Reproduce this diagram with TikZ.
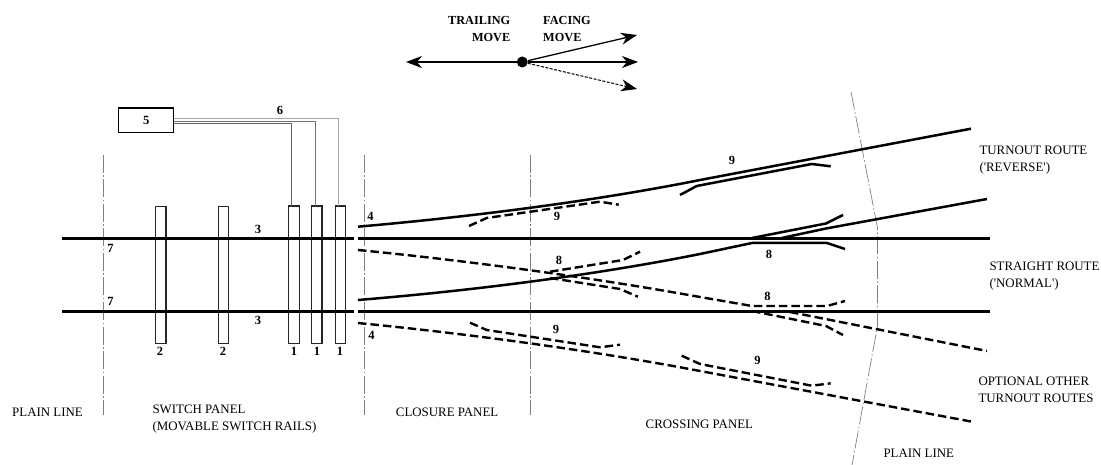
\documentclass[tikz,border=0pt]{standalone}
\usepackage{fontspec}
\setmainfont{Liberation Serif}
\usetikzlibrary{arrows.meta}
\tikzset{
  rail/.style={line width=2.8pt,black},
  route/.style={line width=2.5pt,black,line join=round},
  droute/.style={line width=2.4pt,black,dash pattern=on 8.5pt off 4pt,line join=round},
  panelline/.style={line width=0.7pt,gray,dash pattern=on 18pt off 2.5pt on 1.5pt off 2.5pt},
  sleeper/.style={draw=black!85,line width=1.2pt,fill=none,inner sep=0pt,minimum height=137pt},
  wire/.style={line width=0.9pt},
  num/.style={font=\fontsize{12.5}{12.5}\selectfont\bfseries,inner sep=0pt},
  labr/.style={font=\fontsize{12.9}{16.7}\selectfont,inner sep=0pt,align=left,anchor=west},
  movelab/.style={font=\fontsize{12.3}{16.5}\selectfont\bfseries,inner sep=0pt},
  arw/.style={-{Stealth[length=16pt,width=12pt,inset=5pt]}},
}
\begin{document}
\begin{tikzpicture}[x=1pt,y=-1pt]
\useasboundingbox (0,0) rectangle (1101,465);
% panel lines
\coordinate (pa1) at (103,155); \coordinate (pa2) at (103,415);
\coordinate (pb1) at (364,155); \coordinate (pb2) at (364,415);
\coordinate (pc1) at (530,155); \coordinate (pc2) at (530,415);
\coordinate (pd1) at (851,92); \coordinate (pd2) at (877.5,228); \coordinate (pd3) at (877.5,326); \coordinate (pd4) at (852,465);
\draw[panelline] (pa1) -- (pa2);
\draw[panelline] (pb1) -- (pb2);
\draw[panelline] (pc1) -- (pc2);
\draw[panelline] (pd1) -- (pd2) -- (pd3) -- (pd4);
% sleepers
\node[sleeper,minimum width=10.5pt] (s1) at (160.8,275.2) {};
\node[sleeper,minimum width=10.5pt] (s2) at (223.4,275.2) {};
\node[sleeper,minimum width=10.5pt] (s3) at (294,274.6) {};
\node[sleeper,minimum width=10.5pt] (s4) at (316.8,274.6) {};
\node[sleeper,minimum width=10.5pt] (s5) at (340.6,274.6) {};
% machine
\node[draw=black,line width=1.2pt,minimum width=55pt,minimum height=24.5pt,inner sep=0pt,font=\fontsize{12.5}{12.5}\selectfont\bfseries] (m) at (146.2,120.3) {5};
\coordinate (w1a) at (173.7,118.2); \coordinate (w1b) at (338,118.2); \coordinate (w1c) at (338,206);
\coordinate (w2a) at (173.7,121); \coordinate (w2b) at (315.3,121); \coordinate (w2c) at (315.3,206);
\coordinate (w3a) at (173.7,123.3); \coordinate (w3b) at (291,123.3); \coordinate (w3c) at (291,206);
\draw[wire,black!35] (w1a) -- (w1b) -- (w1c);
\draw[wire,black!55] (w2a) -- (w2b) -- (w2c);
\draw[wire,black!60] (w3a) -- (w3b) -- (w3c);
% straight rails
\coordinate (r1a) at (62,238.3); \coordinate (r1b) at (354,238.3); \coordinate (r1c) at (358,238.3); \coordinate (r1d) at (990,238.3);
\coordinate (r2a) at (62,311.3); \coordinate (r2b) at (354,311.3); \coordinate (r2c) at (358,311.3); \coordinate (r2d) at (990,311.3);
\draw[rail] (r1a) -- (r1b); \draw[rail] (r1c) -- (r1d);
\draw[rail] (r2a) -- (r2b); \draw[rail] (r2c) -- (r2d);
% solid turnout
\draw[route] (358,226.7) .. controls (480,216) and (600,200) .. (700,180) -- (971,128.7);
\draw[route] (680,195) -- (696.7,186) -- (811.7,164) -- (830.7,166.3);
% solid straight-crossing route
\draw[route] (358,300) .. controls (480,290) and (600,274) .. (700,254) -- (752,243) -- (827,243) -- (845,249);
\draw[route] (752,238) -- (826,223.5) -- (843,215);
\draw[route] (781.7,238) -- (826,228.5) -- (987,199);
% dashed other routes
\draw[droute] (358,250) .. controls (480,262) and (600,279) .. (700,297) -- (752,306) -- (827,306) -- (845,301);
\draw[droute] (752,311) -- (826,326) -- (843,335);
\draw[droute] (790,312) -- (987,351);
\draw[droute] (358,323) .. controls (480,335) and (600,352) .. (700,371) -- (972,421.7);
% check rails, dashed
\draw[droute] (469,226) -- (486.7,218) -- (600,201.7) -- (618.7,204.7);
\draw[droute] (470,322.7) -- (486.7,330) -- (600,347.3) -- (620,344.7);
\draw[droute] (681.7,355.7) -- (700,364) -- (811.7,385.7) -- (830.7,383.3);
\draw[droute] (550,271.7) -- (623,260) -- (640,251.7);
\draw[droute] (550,278) -- (620,289) -- (638,296.7);
% numbers
\node[num] (n6) at (280,110) {6};
\node[num] (n3a) at (258,229) {3};
\node[num] (n3b) at (258,320.5) {3};
\node[num] (n7a) at (110.5,248.5) {7};
\node[num] (n7b) at (110.5,301.5) {7};
\node[num] (n2a) at (160,351.5) {2};
\node[num] (n2b) at (223,351.5) {2};
\node[num] (n1a) at (294,351.5) {1};
\node[num] (n1b) at (317,351.5) {1};
\node[num] (n1c) at (340,351.5) {1};
\node[num] (n4a) at (370.5,216.5) {4};
\node[num] (n4b) at (371.5,335) {4};
\node[num] (n9a) at (557,216.5) {9};
\node[num] (n9b) at (556,329.5) {9};
\node[num] (n9c) at (732,160.5) {9};
\node[num] (n9d) at (757.5,360.5) {9};
\node[num] (n8a) at (559,260.5) {8};
\node[num] (n8b) at (769,254) {8};
\node[num] (n8c) at (767.5,296.5) {8};
% labels
\node[labr] (l1) at (979.3,160) {TURNOUT ROUTE\\(\textquotesingle REVERSE\textquotesingle)};
\node[labr] (l2) at (989.3,276.3) {STRAIGHT ROUTE\\(\textquotesingle NORMAL\textquotesingle)};
\node[labr] (l3) at (978.3,389.7) {OPTIONAL OTHER\\TURNOUT ROUTES};
\node[labr] (l4) at (12,412.7) {PLAIN LINE};
\node[labr] (l5) at (152.3,419) {SWITCH PANEL\\(MOVABLE SWITCH RAILS)};
\node[labr] (l6) at (395.7,412.7) {CLOSURE PANEL};
\node[labr] (l7) at (645.5,424) {CROSSING PANEL};
\node[labr] (l8) at (883.3,453.5) {PLAIN LINE};
% direction key
\node[circle,fill=black,inner sep=0pt,minimum size=11pt] (d) at (522.3,62) {};
\coordinate (tl) at (406,62); \coordinate (tr) at (638,62); \coordinate (tu) at (637,35); \coordinate (td) at (637,89);
\draw[arw,line width=1.1pt] (d) -- (tl);
\draw[arw,line width=1.1pt] (d) -- (tr);
\draw[arw,line width=1.3pt] (d) -- (tu);
\draw[arw,line width=1pt,dash pattern=on 3pt off 1.5pt] (d) -- (td);
\node[movelab,align=right,anchor=east] (tm) at (510.5,29) {TRAILING\\MOVE};
\node[movelab,align=left,anchor=west] (fm) at (543,29) {FACING\\MOVE};
\end{tikzpicture}
\end{document}
